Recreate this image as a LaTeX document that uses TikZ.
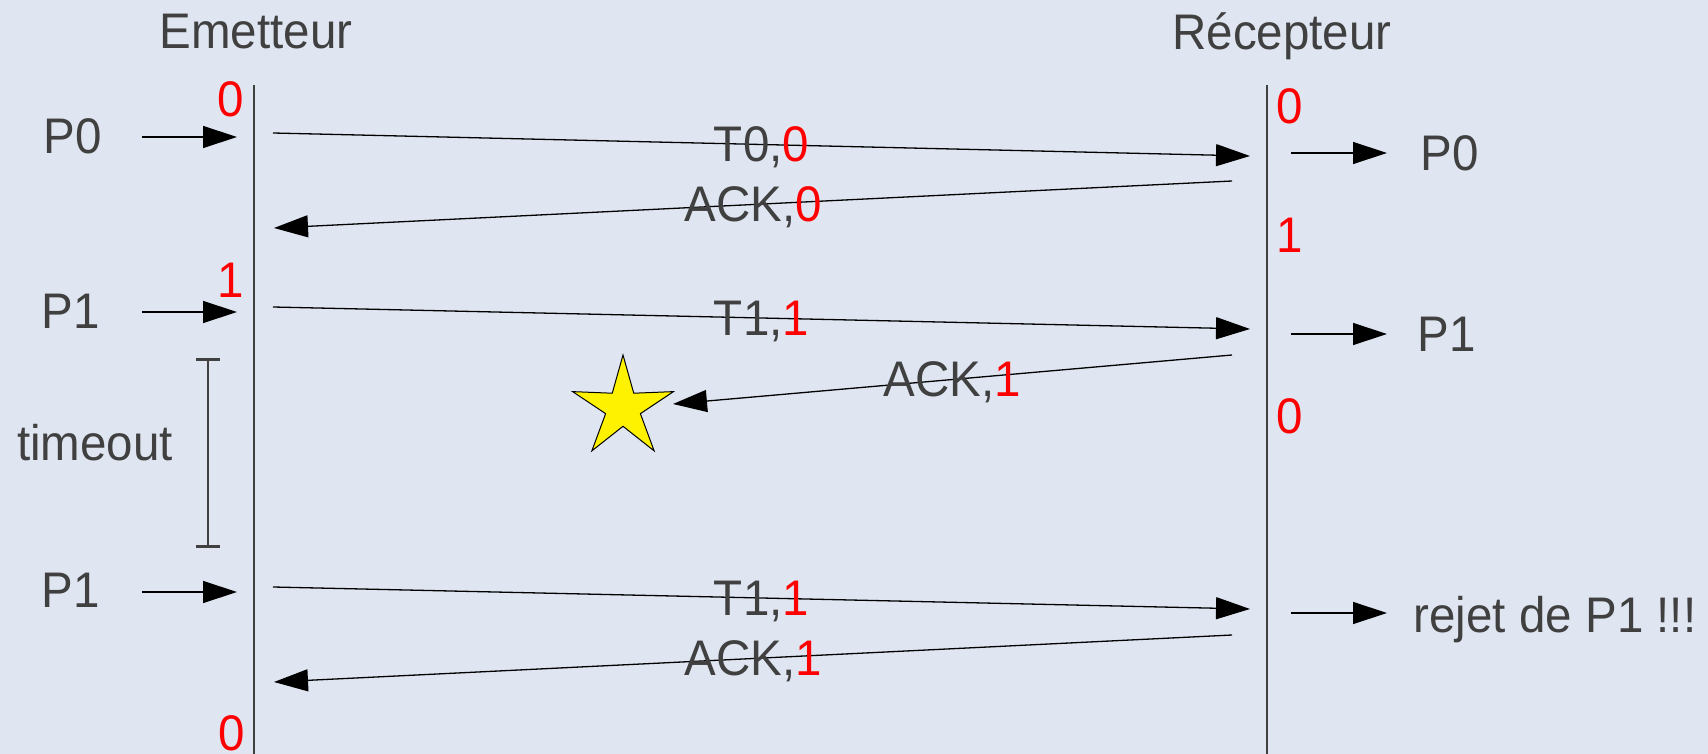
\documentclass[tikz,border=0pt]{standalone}
\usepackage{fontspec}
\setmainfont{Liberation Sans}[FakeStretch=0.95]
\usetikzlibrary{arrows.meta,shapes.geometric}
\definecolor{fond}{RGB}{223,230,241}
\definecolor{texte}{RGB}{64,64,64}
\begin{document}
\begin{tikzpicture}
  [x=0.5pt, y=-0.5pt,
   every node/.style={font=\fontsize{25}{30}\selectfont, text=texte, inner sep=0pt, text depth=0pt},
   num/.style={text=red},
   axe/.style={draw=texte, line width=0.55pt},
   fleche/.style={draw=black, line width=0.65pt, -{Triangle[length=17pt, width=11pt]}},
   delai/.style={draw=texte, line width=0.55pt, {Bar[width=12pt, line width=1.5pt]}-{Bar[width=12pt, line width=1.5pt]}},
   perte/.style={star, star points=5, star point ratio=2.9, minimum size=53pt, fill=yellow, draw=black, line width=0.5pt}]

  \path[use as bounding box, fill=fond] (0,0) rectangle (1708,754);

  % Entités
  \node (em) at (256,31) {Emetteur};
  \node (re) at (1282,31) {Récepteur};
  \coordinate (emH) at (254,85);
  \coordinate (emB) at (254,754);
  \coordinate (reH) at (1267,85);
  \coordinate (reB) at (1267,754);
  \draw[axe] (emH) -- (emB);
  \draw[axe] (reH) -- (reB);

  % Numéros de séquence
  \node[num] (e0) at (231,99) {0};
  \node[num] (e1) at (231,280) {1};
  \node[num] (e2) at (232,733) {0};
  \node[num] (r0) at (1290,106) {0};
  \node[num] (r1) at (1290,235) {1};
  \node[num] (r2) at (1290,416) {0};

  % Paquets
  \node (p0) at (73,136) {P0};
  \node (p1) at (71,311) {P1};
  \node (p2) at (71,590) {P1};
  \node (q0) at (1450,153) {P0};
  \node (q1) at (1447,334) {P1};
  \node (q2) at (1555,614) {rejet de P1 !!!};
  \node (to) at (95,442) {timeout};

  \foreach \n/\y in {a/137, b/312, c/592}
    \draw[fleche] (142,\y) coordinate (g\n) -- (237,\y) coordinate (h\n);
  \foreach \n/\y in {a/153, b/334, c/613}
    \draw[fleche] (1291,\y) coordinate (d\n) -- (1387,\y) coordinate (f\n);

  % Temporisation
  \coordinate (toH) at (208,358);
  \coordinate (toB) at (208,548);
  \draw[delai] (toH) -- (toB);

  % Trames et acquittements
  \coordinate (t0s) at (273,133);   \coordinate (t0e) at (1250,156);
  \coordinate (k0s) at (1232,181);  \coordinate (k0e) at (274,228);
  \coordinate (t1s) at (273,307);   \coordinate (t1e) at (1250,329);
  \coordinate (k1s) at (1232,355);  \coordinate (k1e) at (673,404);
  \coordinate (t2s) at (273,587);   \coordinate (t2e) at (1250,609);
  \coordinate (k2s) at (1232,635);  \coordinate (k2e) at (274,682);

  \draw[fleche] (t0s) -- node {T0,\textcolor{red}{0}} (t0e);
  \draw[fleche] (k0s) -- node {ACK,\textcolor{red}{0}} (k0e);
  \draw[fleche] (t1s) -- node {T1,\textcolor{red}{1}} (t1e);
  \draw[fleche] (k1s) -- node {ACK,\textcolor{red}{1}} (k1e);
  \draw[fleche] (t2s) -- node {T1,\textcolor{red}{1}} (t2e);
  \draw[fleche] (k2s) -- node {ACK,\textcolor{red}{1}} (k2e);

  % Acquittement perdu
  \node[perte] (star) at (623,408) {};
\end{tikzpicture}
\end{document}
